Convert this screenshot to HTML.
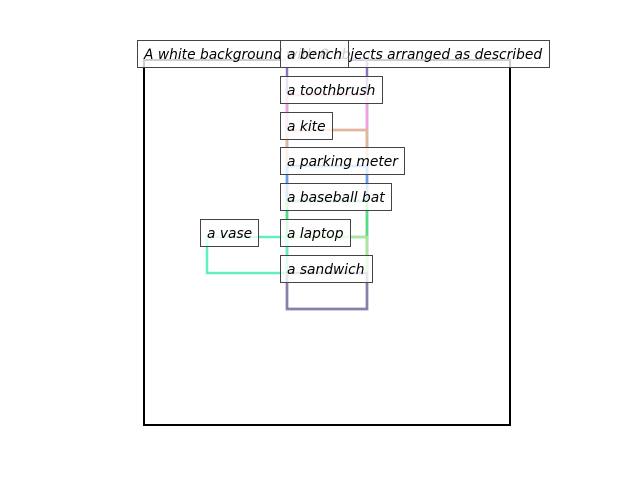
<!DOCTYPE html>
<html><head><style>
body{margin:0;width:640px;height:480px;background:#fff;overflow:hidden;position:relative;font-family:"DejaVu Sans","Liberation Sans",sans-serif;}
.l{position:absolute;height:28px;line-height:28px;border:1px solid #444;background:rgba(255,255,255,0.8);font-style:italic;font-size:13.8px;padding:0 6px;box-sizing:border-box;color:#000;white-space:nowrap;overflow:hidden}
</style></head><body>
<svg width="640" height="480" style="position:absolute;left:0;top:0" fill="none" stroke-width="2.5">
<rect x="144" y="60" width="366" height="365" stroke="#000" stroke-width="2"/>
<rect x="287" y="59" width="80" height="250" stroke="#7a5ab8" stroke-opacity="0.85"/>
<rect x="287" y="95" width="80" height="35" stroke="#f0a0e0"/>
<rect x="287" y="130" width="80" height="36" stroke="#e0b898"/>
<rect x="287" y="166" width="80" height="35" stroke="#60a0f0"/>
<rect x="287" y="201" width="80" height="36" stroke="#50e080"/>
<rect x="287" y="237" width="80" height="36" stroke="#a8e898"/>
<rect x="207" y="237" width="80" height="36" stroke="#60f0c0"/>
<rect x="287" y="273" width="80" height="36" stroke="#8880a8"/>
</svg>
<div class="l" style="left:137px;top:40px;width:413px">A white background with 8 objects arranged as described</div>
<div class="l" style="left:280px;top:40px;width:69px">a bench</div>
<div class="l" style="left:280px;top:76px;width:103px">a toothbrush</div>
<div class="l" style="left:280px;top:112px;width:53px">a kite</div>
<div class="l" style="left:280px;top:147px;width:125px">a parking meter</div>
<div class="l" style="left:280px;top:183px;width:112px">a baseball bat</div>
<div class="l" style="left:200px;top:219px;width:59px">a vase</div>
<div class="l" style="left:280px;top:219px;width:71px">a laptop</div>
<div class="l" style="left:280px;top:255px;width:93px">a sandwich</div>
</body></html>
